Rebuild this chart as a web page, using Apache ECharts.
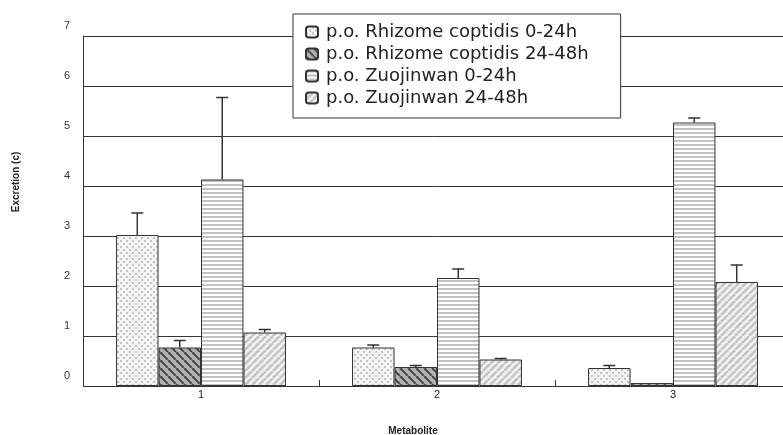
<!DOCTYPE html>
<html>
<head>
<meta charset="utf-8">
<script src="https://cdn.jsdelivr.net/npm/echarts@6/dist/echarts.min.js"></script>
<style>html,body{margin:0;padding:0;background:#fff}#c{width:783px;height:435px}</style>
</head>
<body>
<div id="c"></div>
<script>
const categories = ['1', '2', '3'];
const seriesNames = ['p.o. Rhizome coptidis 0-24h', 'p.o. Rhizome coptidis 24-48h', 'p.o. Zuojinwan 0-24h', 'p.o. Zuojinwan 24-48h'];
const rc024 = [3.02, 0.77, 0.36];
const rc024Err = [0.44, 0.05, 0.05];
const rc2448 = [0.77, 0.38, 0.06];
const rc2448Err = [0.14, 0.03, 0];
const zj024 = [4.13, 2.16, 5.27];
const zj024Err = [1.64, 0.18, 0.09];
const zj2448 = [1.07, 0.53, 2.08];
const zj2448Err = [0.06, 0.02, 0.34];
const yMin = 0, yMax = 7, yInterval = 1;

const values = [rc024, rc2448, zj024, zj2448];
const errs = [rc024Err, rc2448Err, zj024Err, zj2448Err];

function tile(w, h, draw) {
  const c = document.createElement('canvas');
  c.width = w; c.height = h;
  const g = c.getContext('2d');
  draw(g, w, h);
  return c;
}
const patDots = tile(6, 6, (g, w, h) => {
  g.fillStyle = '#f4f4f4'; g.fillRect(0, 0, w, h);
  g.fillStyle = '#c4c4c4';
  g.fillRect(0, 0, 2, 2); g.fillRect(3, 3, 2, 2);
});
const patDark = tile(8, 8, (g, w, h) => {
  g.fillStyle = '#b4b4b4'; g.fillRect(0, 0, w, h);
  g.strokeStyle = '#4a4a4a'; g.lineWidth = 2.2;
  for (let k = -1; k <= 1; k++) { g.beginPath(); g.moveTo(k * w, 0); g.lineTo(k * w + w, h); g.stroke(); }
});
const patHoriz = tile(4, 4, (g, w, h) => {
  g.fillStyle = '#ffffff'; g.fillRect(0, 0, w, h);
  g.fillStyle = '#c2c2c2'; g.fillRect(0, 0, w, 2);
});
const patLight = tile(7, 7, (g, w, h) => {
  g.fillStyle = '#f2f2f2'; g.fillRect(0, 0, w, h);
  g.strokeStyle = '#c4c4c4'; g.lineWidth = 2.6;
  for (let k = -1; k <= 1; k++) { g.beginPath(); g.moveTo(k * w, h); g.lineTo(k * w + w, 0); g.stroke(); }
});
const patterns = [patDots, patDark, patHoriz, patLight];

const catGap = 0.28;
const barSeries = values.map((v, i) => ({
  name: seriesNames[i],
  type: 'bar',
  data: v,
  barGap: '0%',
  barCategoryGap: (catGap * 100) + '%',
  itemStyle: { color: { image: patterns[i], repeat: 'repeat' }, borderColor: '#333', borderWidth: 1 },
  emphasis: { disabled: true },
  silent: true
}));

const errSeries = values.map((v, i) => ({
  name: 'err' + i,
  type: 'custom',
  silent: true,
  z: 3,
  data: v.map((val, j) => [j, val, val + errs[i][j], errs[i][j]]),
  renderItem: function (params, api) {
    if (api.value(3) <= 0) return null;
    const band = api.size([1, 0])[0];
    const bw = band * (1 - catGap) / 4;
    const off = (i - 1.5) * bw;
    const p0 = api.coord([api.value(0), api.value(1)]);
    const p1 = api.coord([api.value(0), api.value(2)]);
    const x = p0[0] + off;
    const st = { stroke: '#333', lineWidth: 1.5 };
    return {
      type: 'group',
      children: [
        { type: 'line', shape: { x1: x, y1: p0[1], x2: x, y2: p1[1] }, style: st },
        { type: 'line', shape: { x1: x - 6, y1: p1[1], x2: x + 6, y2: p1[1] }, style: st }
      ]
    };
  }
}));

const chart = echarts.init(document.getElementById('c'));
chart.setOption({
  animation: false,
  backgroundColor: '#fff',
  textStyle: { fontFamily: 'Liberation Sans, Arial, sans-serif' },
  grid: { left: 83, width: 708, top: 36, bottom: 49, containLabel: false, outerBoundsMode: 'none' },
  legend: {
    data: seriesNames,
    orient: 'vertical',
    left: 293, top: 14,
    padding: [9, 32, 11, 12],
    itemGap: 4,
    itemWidth: 12, itemHeight: 11,
    backgroundColor: '#fff',
    borderColor: '#333', borderWidth: 1,
    borderRadius: 0,
    textStyle: { fontFamily: 'DejaVu Sans', fontSize: 18, color: '#222', lineHeight: 18, padding: [0, 0, 0, 3] },
    selectedMode: false
  },
  xAxis: {
    type: 'category',
    data: categories,
    axisLine: { show: false },
    axisTick: { show: true, inside: true, length: 6, lineStyle: { color: '#333' } },
    axisLabel: { fontSize: 11, color: '#222', margin: 3 },
    splitLine: { show: false }
  },
  yAxis: {
    type: 'value',
    min: yMin, max: yMax, interval: yInterval,
    axisLine: { show: true, lineStyle: { color: '#333', width: 1 } },
    axisTick: { show: false },
    axisLabel: { fontSize: 11, color: '#333', margin: 13, verticalAlign: 'bottom', lineHeight: 21 },
    splitLine: { show: true, lineStyle: { color: '#333', width: 1 } }
  },
  graphic: [
    { type: 'text', x: 16, y: 182, rotation: Math.PI / 2, style: { text: 'Excretion (c)', fontFamily: 'Liberation Sans', fontWeight: 'bold', fontSize: 10, fill: '#222', align: 'center', verticalAlign: 'middle' } },
    { type: 'text', x: 413, y: 431, style: { text: 'Metabolite', fontFamily: 'Liberation Sans', fontWeight: 'bold', fontSize: 10, fill: '#222', align: 'center', verticalAlign: 'middle' } }
  ],
  series: barSeries.concat(errSeries)
});
</script>
</body>
</html>
